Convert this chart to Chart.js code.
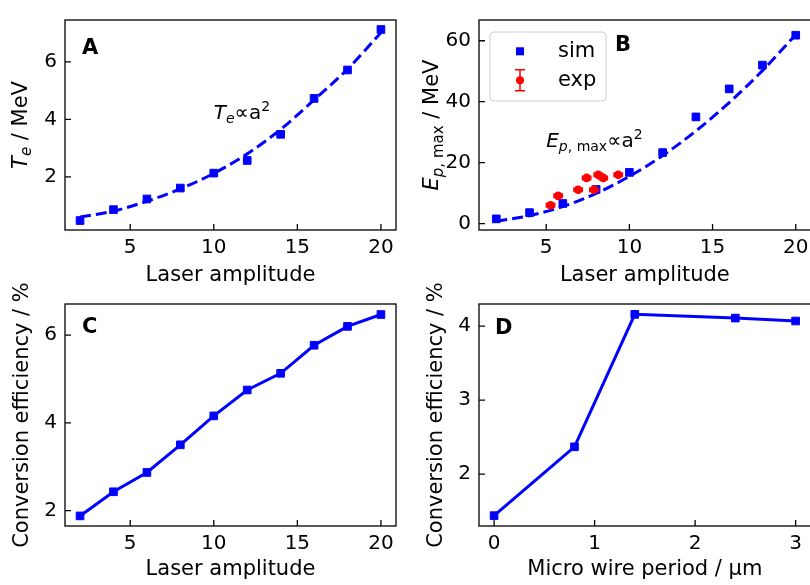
<!DOCTYPE html>
<html><head><meta charset="utf-8">
<script src="https://cdn.jsdelivr.net/npm/chart.js@4.4.0/dist/chart.umd.min.js"></script>
<style>
html,body{margin:0;padding:0;width:810px;height:585px;overflow:hidden;background:#fff;}
canvas{position:absolute;}
</style></head><body>
<canvas id="cA" style="left:0px;top:0px;width:405px;height:290px" width="405" height="290"></canvas>
<canvas id="cB" style="left:405px;top:0px;width:420px;height:290px" width="420" height="290"></canvas>
<canvas id="cC" style="left:0px;top:275px;width:405px;height:310px" width="405" height="310"></canvas>
<canvas id="cD" style="left:405px;top:275px;width:420px;height:310px" width="420" height="310"></canvas>
<script>
// ---------------- data ----------------
const laserAmp = [2, 4, 6, 8, 10, 12, 14, 16, 18, 20];
const teSim = [0.48, 0.86, 1.23, 1.61, 2.13, 2.57, 3.48, 4.73, 5.72, 7.13];
const teFit = [0.60, 0.81, 1.15, 1.58, 2.12, 2.80, 3.65, 4.68, 5.75, 7.02];
const epSim = [1.55, 3.6, 6.6, 11.2, 16.8, 23.3, 35.0, 44.2, 52.0, 61.8];
const epFit = [0.8, 2.6, 5.6, 9.9, 15.5, 22.3, 30.4, 39.7, 50.2, 62.0];
const expAmp = [5.26, 5.72, 6.92, 7.43, 7.87, 8.13, 8.43, 9.33];
const expEp = [6.0, 9.1, 11.1, 15.0, 11.1, 16.0, 15.0, 16.0];
const expAmpErr = [0.25, 0.25, 0.25, 0.25, 0.25, 0.25, 0.25, 0.25];
const expEpErr = [0.6, 0.6, 0.6, 0.6, 0.6, 0.6, 0.6, 0.6];
const ceAmp = [1.88, 2.43, 2.87, 3.50, 4.16, 4.75, 5.13, 5.77, 6.20, 6.47];
const wirePeriod = [0, 0.8, 1.4, 2.4, 3.0];
const ceWire = [1.44, 2.37, 4.16, 4.11, 4.07];
const ampTicks = [5, 10, 15, 20];
const teTicks = [2, 4, 6];
const epTicks = [0, 20, 40, 60];
const ceTicks = [2, 4, 6];
const periodTicks = [0, 1, 2, 3];
const ceWireTicks = [2, 3, 4];

// ---------------- styling helpers ----------------
const FF = "'DejaVu Sans', sans-serif";
const BLUE = '#0000ff', RED = '#ff0000';
const pts = (xs, ys) => xs.map((x, i) => ({x, y: ys[i]}));

const deco = {
  cA: {letter: 'A', letterDx: 17, letterDy: 34, titleX: 27,
       title: [{t: 'T', f: 'italic 21px'}, {t: 'e', f: 'italic 15px', dy: 4}, {t: ' / MeV', f: '21px'}],
       ann: {x: 10, y: 4, parts: [{t: 'T', f: 'italic 20px'}, {t: 'e', f: 'italic 14px', dy: 4}, {t: '\u221D', f: '20px'}, {t: 'a', f: '20px'}, {t: '2', f: '14px', dy: -8}]}},
  cB: {letter: 'B', letterDx: 136, letterDy: 31, titleX: 33,
       title: [{t: 'E', f: 'italic 21px'}, {t: 'p', f: 'italic 15px', dy: 5}, {t: ', max', f: '15px', dy: 5}, {t: ' / MeV', f: '21px'}],
       ann: {x: 5, y: 25, parts: [{t: 'E', f: 'italic 20px'}, {t: 'p', f: 'italic 14px', dy: 4}, {t: ', max', f: '14px', dy: 4}, {t: '\u221D', f: '20px'}, {t: 'a', f: '20px'}, {t: '2', f: '14px', dy: -8}]},
       legend: true},
  cC: {letter: 'C', letterDx: 17, letterDy: 29, titleX: 28,
       title: [{t: 'Conversion efficiency / %', f: '21px'}]},
  cD: {letter: 'D', letterDx: 16, letterDy: 30, titleX: 37,
       title: [{t: 'Conversion efficiency / %', f: '21px'}]}
};

function drawParts(ctx, parts, x, y, center) {
  let total = 0;
  parts.forEach(p => { ctx.font = p.f + ' ' + FF; total += ctx.measureText(p.t).width; });
  let cx = center ? x - total / 2 : x;
  parts.forEach(p => {
    ctx.font = p.f + ' ' + FF;
    ctx.fillText(p.t, cx, y + (p.dy || 0));
    cx += ctx.measureText(p.t).width;
  });
}

const decoPlugin = {
  id: 'deco',
  beforeDatasetDraw(chart, args) {
    const ds = chart.data.datasets[args.index];
    if (!ds.errX) return;
    const xs = chart.scales.x, ys = chart.scales.y, ctx = chart.ctx;
    ctx.save();
    ctx.strokeStyle = RED; ctx.lineWidth = 1.5;
    ds.data.forEach((p, i) => {
      const px = xs.getPixelForValue(p.x), py = ys.getPixelForValue(p.y);
      const x0 = xs.getPixelForValue(p.x - ds.errX[i]), x1 = xs.getPixelForValue(p.x + ds.errX[i]);
      const y0 = ys.getPixelForValue(p.y - ds.errY[i]), y1 = ys.getPixelForValue(p.y + ds.errY[i]);
      ctx.beginPath();
      ctx.moveTo(x0, py); ctx.lineTo(x1, py);
      ctx.moveTo(px, y0); ctx.lineTo(px, y1);
      ctx.moveTo(x0, py - 2.5); ctx.lineTo(x0, py + 2.5);
      ctx.moveTo(x1, py - 2.5); ctx.lineTo(x1, py + 2.5);
      ctx.moveTo(px - 2.5, y0); ctx.lineTo(px + 2.5, y0);
      ctx.moveTo(px - 2.5, y1); ctx.lineTo(px + 2.5, y1);
      ctx.stroke();
    });
    ctx.restore();
  },
  afterDraw(chart) {
    const d = deco[chart.canvas.id];
    const ctx = chart.ctx, a = chart.chartArea;
    const xs = chart.scales.x, ys = chart.scales.y;
    ctx.save();
    // frame
    ctx.strokeStyle = '#000'; ctx.lineWidth = 1.3;
    ctx.strokeRect(a.left, a.top, a.right - a.left, a.bottom - a.top);
    // inward ticks
    ctx.beginPath();
    xs.ticks.forEach(t => { const x = xs.getPixelForValue(t.value); ctx.moveTo(x, a.bottom); ctx.lineTo(x, a.bottom - 6); });
    ys.ticks.forEach(t => { const y = ys.getPixelForValue(t.value); ctx.moveTo(a.left, y); ctx.lineTo(a.left + 6, y); });
    ctx.stroke();
    ctx.fillStyle = '#000';
    ctx.textBaseline = 'alphabetic';
    // panel letter
    ctx.font = 'bold 21px ' + FF; ctx.textAlign = 'left';
    ctx.fillText(d.letter, a.left + d.letterDx, a.top + d.letterDy);
    // annotation
    if (d.ann) {
      drawParts(ctx, d.ann.parts, xs.getPixelForValue(d.ann.x), ys.getPixelForValue(d.ann.y), false);
    }
    // y title (rotated)
    ctx.save();
    ctx.translate(d.titleX, (a.top + a.bottom) / 2);
    ctx.rotate(-Math.PI / 2);
    drawParts(ctx, d.title, 0, 0, true);
    ctx.restore();
    // legend
    if (d.legend) {
      const lx = a.left + 11, ly = a.top + 12, lw = 116, lh = 69;
      ctx.fillStyle = 'rgba(255,255,255,0.8)';
      ctx.strokeStyle = '#cccccc'; ctx.lineWidth = 1;
      ctx.beginPath();
      ctx.roundRect(lx, ly, lw, lh, 4);
      ctx.fill(); ctx.stroke();
      const ds = chart.data.datasets;
      ctx.fillStyle = BLUE;
      ctx.fillRect(a.left + 41 - 4, a.top + 31.3 - 4, 8, 8);
      const ex = a.left + 41, ey = a.top + 60.3;
      ctx.strokeStyle = RED; ctx.lineWidth = 1.5;
      ctx.beginPath();
      ctx.moveTo(ex, ey - 10.5); ctx.lineTo(ex, ey + 10.5);
      ctx.moveTo(ex - 5, ey - 10.5); ctx.lineTo(ex + 5, ey - 10.5);
      ctx.moveTo(ex - 5, ey + 10.5); ctx.lineTo(ex + 5, ey + 10.5);
      ctx.stroke();
      ctx.fillStyle = RED;
      ctx.beginPath(); ctx.arc(ex, ey, 4, 0, Math.PI * 2); ctx.fill();
      ctx.fillStyle = '#000';
      ctx.font = '21px ' + FF;
      ctx.fillText(ds[1].label, a.left + 79, a.top + 37);
      ctx.fillText(ds[2].label, a.left + 79, a.top + 66);
    }
    ctx.restore();
  }
};

function axis(min, max, tickArr, size, isX, titleText, titlePadBottom, tickPad) {
  const o = {
    type: 'linear', min, max,
    grid: {display: false, drawTicks: false},
    border: {display: false},
    ticks: {color: '#000', font: {family: FF, size: 20}, padding: tickPad, autoSkip: false, maxRotation: 0, includeBounds: false},
    afterBuildTicks: s => { s.ticks = tickArr.map(v => ({value: v})); },
    afterFit: s => { if (isX) s.height = size; else s.width = size; }
  };
  if (titleText) o.title = {display: true, text: titleText, color: '#000', font: {family: FF, size: 21}, padding: {top: 0, bottom: titlePadBottom}};
  return o;
}

function common(padding, scales) {
  return {
    responsive: false, animation: false, devicePixelRatio: 1,
    layout: {padding},
    plugins: {legend: {display: false}, tooltip: {enabled: false}},
    scales
  };
}

Chart.register(decoPlugin);

new Chart(document.getElementById('cA'), {
  type: 'scatter',
  data: {datasets: [
    {label: 'fit', data: pts(laserAmp, teFit), showLine: true, borderColor: BLUE, borderWidth: 3, borderDash: [11, 5], pointRadius: 0, cubicInterpolationMode: 'monotone', order: 2},
    {label: 'sim', data: pts(laserAmp, teSim), showLine: false, pointStyle: 'rect', pointRadius: 5.4, backgroundColor: BLUE, borderColor: BLUE, borderWidth: 1, order: 1}
  ]},
  options: common({top: 8, right: 9, left: 0, bottom: 0}, {
    x: axis(1.1, 20.9, ampTicks, 60, true, 'Laser amplitude', 1.4, 6),
    y: axis(0.15, 7.46, teTicks, 65, false, null, 0, 8)
  })
});

new Chart(document.getElementById('cB'), {
  type: 'scatter',
  data: {datasets: [
    {label: 'fit', data: pts(laserAmp, epFit), showLine: true, borderColor: BLUE, borderWidth: 3, borderDash: [11, 5], pointRadius: 0, cubicInterpolationMode: 'monotone', order: 3},
    {label: 'sim', data: pts(laserAmp, epSim), showLine: false, pointStyle: 'rect', pointRadius: 5.4, backgroundColor: BLUE, borderColor: BLUE, borderWidth: 1, order: 2},
    {label: 'exp', data: pts(expAmp, expEp), errX: expAmpErr, errY: expEpErr, showLine: false, pointStyle: 'circle', pointRadius: 4.3, backgroundColor: RED, borderColor: RED, borderWidth: 0, order: 1}
  ]},
  options: common({top: 8, right: 14.3, left: 0, bottom: 0}, {
    x: axis(0.96, 20.9, ampTicks, 60, true, 'Laser amplitude', 1.4, 6),
    y: axis(-2.1, 66.8, epTicks, 74, false, null, 0, 8)
  })
});

new Chart(document.getElementById('cC'), {
  type: 'scatter',
  data: {datasets: [
    {label: 'sim', data: pts(laserAmp, ceAmp), showLine: true, borderColor: BLUE, borderWidth: 3, pointStyle: 'rect', pointRadius: 5.4, backgroundColor: BLUE, pointBorderWidth: 1}
  ]},
  options: common({top: 29, right: 9, left: 0, bottom: 0}, {
    x: axis(1.1, 20.9, ampTicks, 59, true, 'Laser amplitude', 2.4, 6),
    y: axis(1.65, 6.71, ceTicks, 65, false, null, 0, 8)
  })
});

new Chart(document.getElementById('cD'), {
  type: 'scatter',
  data: {datasets: [
    {label: 'sim', data: pts(wirePeriod, ceWire), showLine: true, borderColor: BLUE, borderWidth: 3, pointStyle: 'rect', pointRadius: 5.4, backgroundColor: BLUE, pointBorderWidth: 1}
  ]},
  options: common({top: 29, right: 14.3, left: 0, bottom: 0}, {
    x: axis(-0.15, 3.15, periodTicks, 59, true, 'Micro wire period / \u00B5m', 2.4, 6),
    y: axis(1.30, 4.30, ceWireTicks, 74, false, null, 0, 8)
  })
});
</script>
</body></html>
